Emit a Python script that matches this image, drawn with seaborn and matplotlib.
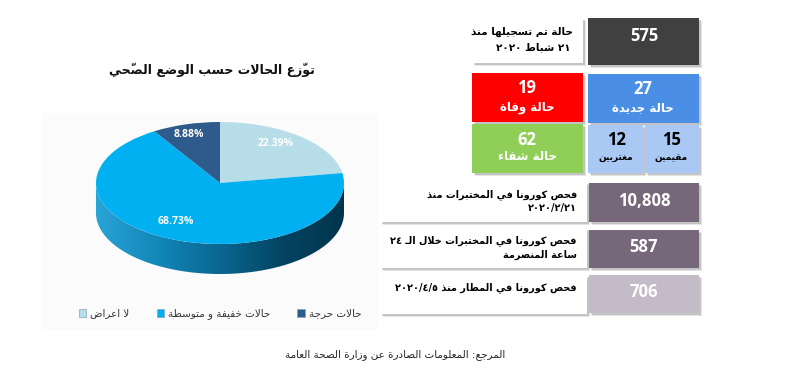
import re
import numpy as np
import pandas as pd
import matplotlib
matplotlib.use("Agg")
import matplotlib.pyplot as plt
import seaborn as sns
from matplotlib.patches import Rectangle, Polygon, Patch
from matplotlib.colors import LinearSegmentedColormap

# ---------------- data ----------------
pie_labels = ["لا اعراض", "حالات خفيفة و متوسطة", "حالات حرجة"]
pie_values = [22.39, 68.73, 8.88]
pie_colors = ["#b7dde8", "#00b0f0", "#2f5a8c"]
pie_title = "توزّع الحالات حسب الوضع الصحّي"

total_cases = 575
total_label = ["حالة تم تسجيلها منذ", "٢١ شباط ٢٠٢٠"]
deaths = 19
deaths_label = "حالة وفاة"
new_cases = 27
new_label = "حالة جديدة"
recovered = 62
recovered_label = "حالة شفاء"
expats = 12
expats_label = "مغتربين"
residents = 15
residents_label = "مقيمين"
test_values = [10808, 587, 706]
test_labels = [["فحص كورونا في المختبرات منذ", "٢٠٢٠/٢/٢١"],
               ["فحص كورونا في المختبرات خلال الـ ٢٤", "ساعة المنصرمة"],
               ["فحص كورونا في المطار منذ ٢٠٢٠/٤/٥"]]
test_colors = ["#76687a", "#76687a", "#c3bbc7"]
source_text = "المرجع: المعلومات الصادرة عن وزارة الصحة العامة"

# ---------------- minimal Arabic shaping + bidi ----------------
DUAL = {'ئ': 0xFE89, 'ب': 0xFE8F, 'ت': 0xFE95, 'ث': 0xFE99, 'ج': 0xFE9D, 'ح': 0xFEA1,
        'خ': 0xFEA5, 'س': 0xFEB1, 'ش': 0xFEB5, 'ص': 0xFEB9, 'ض': 0xFEBD, 'ط': 0xFEC1,
        'ظ': 0xFEC5, 'ع': 0xFEC9, 'غ': 0xFECD, 'ف': 0xFED1, 'ق': 0xFED5, 'ك': 0xFED9,
        'ل': 0xFEDD, 'م': 0xFEE1, 'ن': 0xFEE5, 'ه': 0xFEE9, 'ي': 0xFEF1}
RIGHT = {'آ': 0xFE81, 'أ': 0xFE83, 'ؤ': 0xFE85, 'إ': 0xFE87, 'ا': 0xFE8D, 'ة': 0xFE93,
         'د': 0xFEA9, 'ذ': 0xFEAB, 'ر': 0xFEAD, 'ز': 0xFEAF, 'و': 0xFEED, 'ى': 0xFEEF}
LAMALEF = {'آ': 0xFEF5, 'أ': 0xFEF7, 'إ': 0xFEF9, 'ا': 0xFEFB}
MARKS = set('\u064B\u064C\u064D\u064E\u064F\u0650\u0651\u0652')


def shape(s):
    items = []
    i = 0
    while i < len(s):
        c = s[i]
        if c in MARKS:
            if items:
                items[-1]['m'] += c
            else:
                items.append({'c': c, 'j': None, 'm': ''})
            i += 1
            continue
        if c == 'ل' and i + 1 < len(s) and s[i + 1] in LAMALEF:
            items.append({'b': LAMALEF[s[i + 1]], 'j': 'R', 'm': ''})
            i += 2
            continue
        if c in DUAL:
            items.append({'b': DUAL[c], 'j': 'D', 'm': ''})
        elif c in RIGHT:
            items.append({'b': RIGHT[c], 'j': 'R', 'm': ''})
        elif c == '\u0640':
            items.append({'c': c, 'j': 'C', 'm': ''})
        else:
            items.append({'c': c, 'j': None, 'm': ''})
        i += 1
    out = []
    for k, it in enumerate(items):
        j = it['j']
        if j in ('D', 'R'):
            prev = items[k - 1]['j'] if k > 0 else None
            nxt = items[k + 1]['j'] if k + 1 < len(items) else None
            cp = prev in ('D', 'C')
            cn = j == 'D' and nxt in ('D', 'R', 'C')
            if j == 'D':
                off = 3 if (cp and cn) else 2 if cn else 1 if cp else 0
            else:
                off = 1 if cp else 0
            g = chr(it['b'] + off)
        else:
            g = it['c']
        out.append(g + it['m'])
    return out


NUM = re.compile(r'[0-9\u0660-\u0669][0-9\u0660-\u0669/.,%]*')


def ar(text):
    segs = []
    pos = 0
    for m in NUM.finditer(text):
        if m.start() > pos:
            segs.append(('R', text[pos:m.start()]))
        segs.append(('L', m.group()))
        pos = m.end()
    if pos < len(text):
        segs.append(('R', text[pos:]))
    vis = []
    for kind, s in reversed(segs):
        if kind == 'L':
            vis.append(s)
        else:
            vis.append(''.join(reversed(shape(s))))
    return ''.join(vis)


# ---------------- figure ----------------
sns.set_theme(style="white")
plt.rcParams['font.family'] = ['DejaVu Sans']
W, H = 787, 391
fig = plt.figure(figsize=(W / 100, H / 100), dpi=100)
fig.patch.set_facecolor("white")

ax0 = fig.add_axes([0, 0, 1, 1])
ax0.set_xlim(0, W)
ax0.set_ylim(H, 0)
ax0.axis('off')

AR = ['DejaVu Sans']
NUMF = ['Open Sans', 'DejaVu Sans']

# faint chart area
ax0.add_patch(Rectangle((42, 113), 336, 217, facecolor="#fbfbfb", edgecolor="none", zorder=0))

# title
ax0.text(212, 70, ar(pie_title), ha='center', va='center', fontsize=9,
         fontweight='bold', family=AR, color='#111111')

# pie axes (ellipse with depth)
cx, cy, rx, ry, depth = 220, 183, 124, 61, 30
dd = depth / ry
mg = 1.05
left_px, right_px = cx - mg * rx, cx + mg * rx
top_px, bot_px = cy - mg * ry, cy + (mg + dd) * ry
axp = fig.add_axes([left_px / W, 1 - bot_px / H, (right_px - left_px) / W, (bot_px - top_px) / H])
axp.patch.set_alpha(0)

wedges, _, autotexts = axp.pie(pie_values, colors=pie_colors, startangle=90, counterclock=False,
                               autopct='%.2f%%', pctdistance=0.76, radius=1,
                               wedgeprops=dict(linewidth=0),
                               textprops=dict(color='white', fontsize=7.5, fontweight='bold',
                                              family=NUMF))
for w in wedges:
    w.set_zorder(2)
for t in autotexts:
    x, y = t.get_position()
    t.set_position((x - 0.04, y + 0.06))
    t.set_zorder(3)

tt = np.linspace(np.pi, 2 * np.pi, 200)
lower = np.c_[np.cos(tt), np.sin(tt) - dd]
upper = np.c_[np.cos(tt[::-1]), np.sin(tt[::-1])]
side = Polygon(np.vstack([lower, upper]), closed=True, facecolor='none', edgecolor='none')
axp.add_patch(side)
cmap = LinearSegmentedColormap.from_list('side', ['#2aa3d6', '#1287b8', '#0a6690', '#034462', '#02344c'])
grad = np.linspace(0, 1, 256).reshape(1, -1)
im = axp.imshow(grad, extent=[-1, 1, -1 - dd, 0.02], cmap=cmap, aspect='auto',
                zorder=1, interpolation='bicubic')
im.set_clip_path(side)
axp.set_aspect('auto')
axp.set_xlim(-mg, mg)
axp.set_ylim(-(mg + dd), mg)
axp.axis('off')

# legend (RTL order: left to right)
order = [0, 1, 2]
handles = [Patch(facecolor=pie_colors[i], edgecolor='#8aa0b8', linewidth=0.5) for i in order]
labels = [ar(pie_labels[i]) for i in order]
ax0.legend(handles, labels, ncol=3, loc='center', bbox_to_anchor=(220, 314),
           bbox_transform=ax0.transData, frameon=False, handlelength=0.7, handleheight=0.7,
           handletextpad=0.4, columnspacing=2.6, prop=dict(family=AR, size=7.5),
           labelcolor='#333333')


# ---------------- info boxes ----------------
def box(x0, y0, x1, y1, color):
    ax0.add_patch(Rectangle((x0 + 3, y0 + 3), x1 - x0, y1 - y0, facecolor='black',
                            alpha=0.10, edgecolor='none', zorder=1))
    ax0.add_patch(Rectangle((x0 + 1.5, y0 + 1.5), x1 - x0, y1 - y0, facecolor='black',
                            alpha=0.14, edgecolor='none', zorder=1))
    ax0.add_patch(Rectangle((x0, y0), x1 - x0, y1 - y0, facecolor=color,
                            edgecolor='none', zorder=2))


# total
box(472, 18, 583, 63, 'white')
ax0.text(573, 32, ar(total_label[0]), ha='right', va='center', fontsize=7.5,
         fontweight='bold', family=AR, color='black', zorder=3)
ax0.text(571, 47, ar(total_label[1]), ha='right', va='center', fontsize=7.5,
         fontweight='bold', family=AR, color='black', zorder=3)
box(588, 18, 699, 65, '#404040')
ax0.text(644, 36, f"{total_cases}", ha='center', va='center', fontsize=12,
         fontweight='bold', family=NUMF, color='white', zorder=3)

# deaths / new
box(472, 73, 583, 122, '#ff0000')
ax0.text(527, 88, f"{deaths}", ha='center', va='center', fontsize=12,
         fontweight='bold', family=NUMF, color='white', zorder=3)
ax0.text(527, 107, ar(deaths_label), ha='center', va='center', fontsize=8.5,
         fontweight='bold', family=AR, color='white', zorder=3)
box(588, 74, 699, 123, '#4a8ee6')
ax0.text(643, 89, f"{new_cases}", ha='center', va='center', fontsize=12,
         fontweight='bold', family=NUMF, color='white', zorder=3)
ax0.text(643, 108, ar(new_label), ha='center', va='center', fontsize=8.5,
         fontweight='bold', family=AR, color='white', zorder=3)

# recovered / split of new cases
box(472, 124, 583, 173, '#8fcf57')
ax0.text(527, 140, f"{recovered}", ha='center', va='center', fontsize=12,
         fontweight='bold', family=NUMF, color='white', zorder=3)
ax0.text(527, 157, ar(recovered_label), ha='center', va='center', fontsize=8.5,
         fontweight='bold', family=AR, color='white', zorder=3)
box(588, 125, 643, 173, '#a9c8f3')
box(645, 125, 699, 173, '#a9c8f3')
ax0.text(616, 140, f"{expats}", ha='center', va='center', fontsize=12,
         fontweight='bold', family=NUMF, color='black', zorder=3)
ax0.text(616, 157, ar(expats_label), ha='center', va='center', fontsize=6.5,
         fontweight='bold', family=AR, color='black', zorder=3)
ax0.text(671, 140, f"{residents}", ha='center', va='center', fontsize=12,
         fontweight='bold', family=NUMF, color='black', zorder=3)
ax0.text(671, 157, ar(residents_label), ha='center', va='center', fontsize=6.5,
         fontweight='bold', family=AR, color='black', zorder=3)

# tests
rows = [(182, 222, 183, 222), (228, 268, 230, 268), (275, 314, 275, 313)]
for (wy0, wy1, my0, my1), val, lab, col in zip(rows, test_values, test_labels, test_colors):
    box(380, wy0, 587, wy1, 'white')
    box(589, my0, 699, my1, col)
    for k, line in enumerate(lab):
        ax0.text(577, wy0 + 13 + 13.5 * k, ar(line), ha='right', va='center', fontsize=7,
                 fontweight='bold', family=AR, color='black', zorder=3)
    ax0.text(644, (my0 + my1) / 2 - 2, f"{val:,}", ha='center', va='center', fontsize=12,
             fontweight='bold', family=NUMF, color='white', zorder=3)

# source
ax0.text(395, 355, ar(source_text), ha='center', va='center', fontsize=7.5,
         family=AR, color='#222222')

fig.savefig("out.png", dpi=100, facecolor='white')
